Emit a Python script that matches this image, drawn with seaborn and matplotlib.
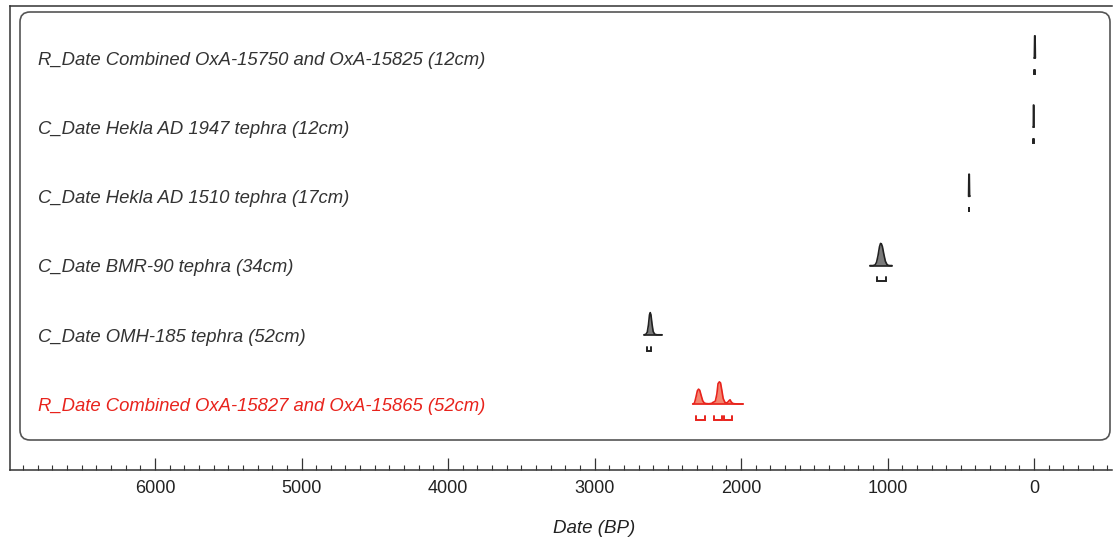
import matplotlib
matplotlib.use("Agg")
import matplotlib.pyplot as plt
import numpy as np
import pandas as pd
import seaborn as sns
from matplotlib.patches import FancyBboxPatch
from matplotlib.transforms import IdentityTransform
from matplotlib.ticker import MultipleLocator

labels = [
    "R_Date Combined OxA-15750 and OxA-15825 (12cm)",
    "C_Date Hekla AD 1947 tephra (12cm)",
    "C_Date Hekla AD 1510 tephra (17cm)",
    "C_Date BMR-90 tephra (34cm)",
    "C_Date OMH-185 tephra (52cm)",
    "R_Date Combined OxA-15827 and OxA-15865 (52cm)",
]
is_red = [False, False, False, False, False, True]

# probability profiles: (years BP, relative height)
combined_15750_yr = [-9, -7, -4, -2]
combined_15750_p = [0, 1, 1, 0]
hekla_1947_yr = [1, 2, 4, 5]
hekla_1947_p = [0, 1, 1, 0]
hekla_1510_yr = [440, 442, 445, 447]
hekla_1510_p = [0, 1, 1, 0]
bmr90_yr = [1120, 1100, 1085, 1075, 1065, 1055, 1048, 1042, 1035, 1025, 1015, 1005, 995, 985, 970]
bmr90_p = [0, 0, 0.03, 0.15, 0.45, 0.85, 1.0, 0.98, 0.85, 0.5, 0.2, 0.06, 0.01, 0, 0]
omh185_yr = [2662, 2650, 2640, 2632, 2625, 2620, 2615, 2608, 2600, 2590, 2575, 2540]
omh185_p = [0, 0.02, 0.12, 0.45, 0.9, 1.0, 0.9, 0.5, 0.15, 0.03, 0, 0]
combined_15827_yr = [2330, 2318, 2308, 2298, 2290, 2282, 2272, 2262, 2252, 2240, 2220, 2200,
                     2190, 2182, 2175, 2165, 2157, 2148, 2140, 2132, 2122, 2110, 2095, 2082,
                     2075, 2068, 2058, 2045, 2020, 1986]
combined_15827_p = [0, 0.04, 0.3, 0.6, 0.67, 0.62, 0.38, 0.15, 0.05, 0.02, 0.01, 0.03,
                    0.08, 0.1, 0.14, 0.45, 0.92, 1.0, 0.95, 0.65, 0.25, 0.07, 0.05, 0.15,
                    0.19, 0.1, 0.03, 0.01, 0, 0]

profiles = [
    (combined_15750_yr, combined_15750_p),
    (hekla_1947_yr, hekla_1947_p),
    (hekla_1510_yr, hekla_1510_p),
    (bmr90_yr, bmr90_p),
    (omh185_yr, omh185_p),
    (combined_15827_yr, combined_15827_p),
]

# highest probability ranges (years BP)
ranges = [
    [(-8, -3)],
    [(2, 5)],
    [(442, 446)],
    [(1072, 1010)],
    [(2642, 2614)],
    [(2307, 2246), (2184, 2130), (2116, 2061)],
]

sns.set_theme(style="white")
plt.rcParams["font.family"] = ["Liberation Sans", "DejaVu Sans"]

fig = plt.figure(figsize=(11.15, 5.37), dpi=100)
ax = fig.add_axes([10 / 1115, 1 - 470 / 537, 1102 / 1115, 464 / 537])

dark = "#222222"
red = "#e8231c"
peak_h = 0.32
fs = 13.3

for i, ((yrs, p), rngs) in enumerate(zip(profiles, ranges)):
    edge = red if is_red[i] else dark
    fill = "#f4846e" if is_red[i] else "#7a7a7a"
    df = pd.DataFrame({"year": yrs, "y": i - peak_h * np.asarray(p)})
    ax.fill_between(df["year"], i, df["y"], color=fill, lw=0)
    sns.lineplot(data=df, x="year", y="y", ax=ax, color=edge, lw=1.2, sort=False,
                 estimator=None)
    ax.plot([min(yrs), max(yrs)], [i, i], color=edge, lw=1.2)
    for a, b in rngs:
        ax.plot([a, a, b, b], [i + 0.17, i + 0.23, i + 0.23, i + 0.17],
                color=edge, lw=1.4, solid_joinstyle="miter")
    ax.text(0.0254, i + 0.035, labels[i], transform=ax.get_yaxis_transform(),
            style="italic", fontsize=fs, va="center", ha="left",
            color=red if is_red[i] else "#333333")

ax.set_xlim(6990, -532)
ax.set_ylim(5.954, -0.751)
ax.set_yticks([])
ax.set_ylabel("")
ax.xaxis.set_major_locator(MultipleLocator(1000))
ax.xaxis.set_minor_locator(MultipleLocator(100))
ax.tick_params(axis="x", which="major", direction="in", length=8.5, width=0.9,
               color="#333333", labelsize=13, labelcolor="#222222", pad=7, bottom=True)
ax.tick_params(axis="x", which="minor", direction="in", length=3.6, width=0.8,
               color="#333333", bottom=True)
ax.set_xlabel("Date (BP)", style="italic", fontsize=13.5, color="#222222")
ax.xaxis.set_label_coords((594 - 10) / 1102, -(520 - 470) / 464, transform=ax.transAxes)

for side in ["left", "top", "bottom"]:
    ax.spines[side].set_visible(True)
    ax.spines[side].set_color("#333333")
    ax.spines[side].set_linewidth(1.1)
ax.spines["right"].set_visible(False)

box = FancyBboxPatch((20, 537 - 440), 1090, 428,
                     boxstyle="round,pad=0,rounding_size=10",
                     transform=IdentityTransform(), fill=False,
                     edgecolor="#555555", lw=1.2)
fig.patches.append(box)

fig.savefig("out.png", dpi=100)
